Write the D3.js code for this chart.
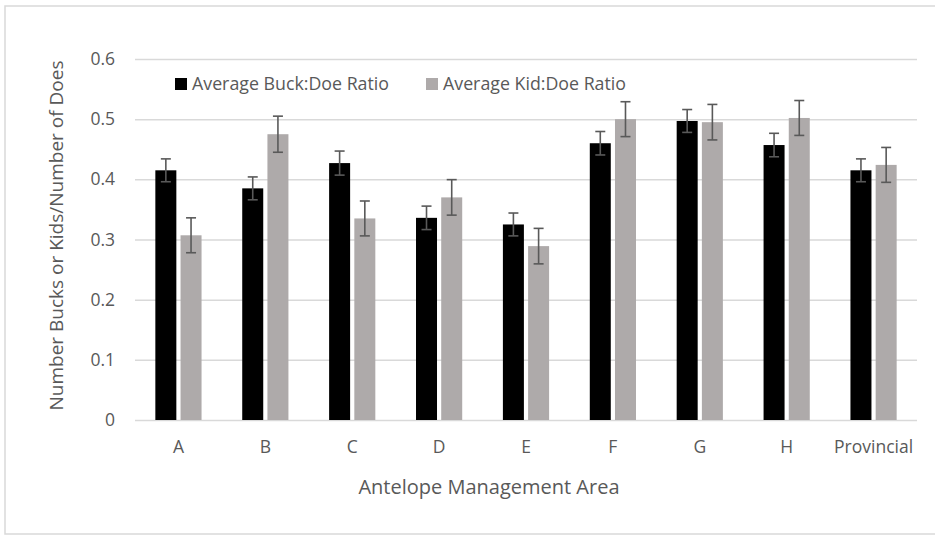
<!DOCTYPE html>
<html>
<head>
<meta charset="utf-8">
<script src="https://cdnjs.cloudflare.com/ajax/libs/d3/7.8.5/d3.min.js"></script>
<style>
  html, body { margin: 0; padding: 0; background: #ffffff; }
  svg { display: block; }
  text { font-family: "Open Sans", "Noto Sans", sans-serif; fill: #595959; }
</style>
</head>
<body>
<svg id="chart" width="935" height="535"></svg>
<script>
// ---- data ----
const categories = ["A", "B", "C", "D", "E", "F", "G", "H", "Provincial"];
const seriesNames = ["Average Buck:Doe Ratio", "Average Kid:Doe Ratio"];
const buckDoe = [0.415, 0.385, 0.427, 0.336, 0.325, 0.460, 0.497, 0.457, 0.415];
const buckErr = [0.019, 0.019, 0.020, 0.0195, 0.019, 0.0195, 0.019, 0.0195, 0.019];
const kidDoe  = [0.307, 0.475, 0.335, 0.370, 0.289, 0.500, 0.495, 0.502, 0.424];
const kidErr  = [0.029, 0.030, 0.029, 0.0295, 0.0295, 0.029, 0.0295, 0.029, 0.029];
const yTicks = [0, 0.1, 0.2, 0.3, 0.4, 0.5, 0.6];
const xTitle = "Antelope Management Area";
const yTitle = "Number Bucks or Kids/Number of Does";

const seriesValues = [buckDoe, kidDoe];
const seriesErrors = [buckErr, kidErr];
const seriesColors = ["#000000", "#aeaaaa"];

// ---- layout ----
const svg = d3.select("#chart");
const plot = { left: 135, right: 917, top: 59, bottom: 420 };

svg.append("rect")
  .attr("x", 5).attr("y", 6).attr("width", 940).attr("height", 528)
  .attr("fill", "#ffffff").attr("stroke", "#d9d9d9").attr("stroke-width", 1.5);

const x0 = d3.scaleBand().domain(categories).range([plot.left, plot.right]).padding(0);
const y = d3.scaleLinear().domain([0, 0.6]).range([plot.bottom, plot.top]);

const barW = x0.bandwidth() * 0.2417;
const gap = barW * 0.2;
const groupW = 2 * barW + gap;
const x1 = d3.scaleBand()
  .domain(seriesNames)
  .range([(x0.bandwidth() - groupW) / 2, (x0.bandwidth() + groupW) / 2])
  .paddingInner(gap / (barW + gap))
  .paddingOuter(0);

// gridlines
const yAxis = d3.axisLeft(y).tickValues(yTicks)
  .tickSize(-(plot.right - plot.left))
  .tickPadding(20)
  .tickFormat(d => d === 0 ? "0" : d3.format(".1f")(d));

const gy = svg.append("g").attr("transform", `translate(${plot.left},0)`).call(yAxis);
gy.select(".domain").remove();
gy.selectAll(".tick line").attr("stroke", "#d9d9d9").attr("stroke-width", 1.5);
gy.selectAll(".tick text")
  .attr("font-size", 17.5).attr("fill", "#595959")
  .style("font-family", '"Open Sans", sans-serif');

// x axis labels
const xAxis = d3.axisBottom(x0).tickSize(0).tickPadding(21);
const gx = svg.append("g").attr("transform", `translate(0,${plot.bottom})`).call(xAxis);
gx.select(".domain").remove();
gx.selectAll(".tick text")
  .attr("font-size", 17.5).attr("fill", "#595959")
  .style("font-family", '"Open Sans", sans-serif');

// bars
const rows = categories.map((c, i) => ({
  cat: c,
  items: seriesNames.map((s, k) => ({ s, k, v: seriesValues[k][i], e: seriesErrors[k][i] }))
}));

const groups = svg.append("g").selectAll("g")
  .data(rows).join("g")
  .attr("transform", d => `translate(${x0(d.cat)},0)`);

groups.selectAll("rect")
  .data(d => d.items).join("rect")
  .attr("x", d => x1(d.s))
  .attr("y", d => y(d.v))
  .attr("width", x1.bandwidth())
  .attr("height", d => y(0) - y(d.v))
  .attr("fill", d => seriesColors[d.k]);

// error bars
const capW = 10;
const eg = groups.selectAll("g.err")
  .data(d => d.items).join("g").attr("class", "err")
  .attr("stroke", "#595959").attr("stroke-width", 1.6).attr("fill", "none");
eg.append("line")
  .attr("x1", d => x1(d.s) + x1.bandwidth() / 2)
  .attr("x2", d => x1(d.s) + x1.bandwidth() / 2)
  .attr("y1", d => y(d.v + d.e))
  .attr("y2", d => y(d.v - d.e));
eg.append("line")
  .attr("x1", d => x1(d.s) + x1.bandwidth() / 2 - capW / 2)
  .attr("x2", d => x1(d.s) + x1.bandwidth() / 2 + capW / 2)
  .attr("y1", d => y(d.v + d.e))
  .attr("y2", d => y(d.v + d.e));
eg.append("line")
  .attr("x1", d => x1(d.s) + x1.bandwidth() / 2 - capW / 2)
  .attr("x2", d => x1(d.s) + x1.bandwidth() / 2 + capW / 2)
  .attr("y1", d => y(d.v - d.e))
  .attr("y2", d => y(d.v - d.e));

// legend
const legendX = [175, 426];
const legend = svg.append("g").selectAll("g")
  .data(seriesNames).join("g")
  .attr("transform", (d, i) => `translate(${legendX[i]},78)`);
legend.append("rect")
  .attr("width", 12).attr("height", 12)
  .attr("fill", (d, i) => seriesColors[i]);
legend.append("text")
  .attr("x", 17).attr("y", 11.5)
  .attr("font-size", 17.8)
  .text(d => d);

// axis titles
svg.append("text")
  .attr("x", 489)
  .attr("y", 494)
  .attr("text-anchor", "middle")
  .attr("font-size", 20)
  .text(xTitle);

svg.append("text")
  .attr("transform", `translate(63,${(plot.top + plot.bottom) / 2 - 4}) rotate(-90)`)
  .attr("text-anchor", "middle")
  .attr("font-size", 19)
  .text(yTitle);
</script>
</body>
</html>
